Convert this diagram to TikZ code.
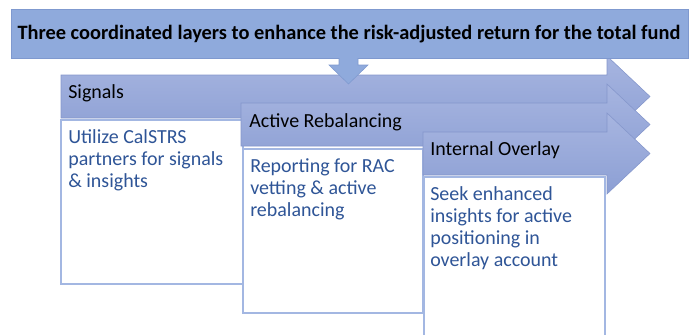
\documentclass[tikz,border=0pt]{standalone}
\usepackage{fontspec}
\setmainfont{Carlito}
\usetikzlibrary{positioning}

\definecolor{bannerblue}{HTML}{8FAADC}
\definecolor{bannerline}{HTML}{7F99CF}
\definecolor{arrowtop}{HTML}{A7B5E0}
\definecolor{arrowbot}{HTML}{8C9FD4}
\definecolor{arrowline}{HTML}{8496CB}
\definecolor{boxline}{HTML}{A3B7E2}
\definecolor{bodyblue}{HTML}{2F5597}

\tikzset{
  layer/.style={top color=arrowtop, bottom color=arrowbot, draw=arrowline, line width=0.4pt},
  card/.style={draw=boxline, fill=white, line width=0.8pt},
  head/.style={anchor=base west, inner sep=0pt, font=\fontsize{14.2}{17}\selectfont},
  note/.style={anchor=north west, inner sep=0pt, align=left, text=bodyblue,
    font=\fontsize{14.2}{15.7}\selectfont},
}

\newcommand{\layerarrow}[2]{%
  \draw[layer] (#1,#2) -- (607,#2) -- (607,#2-19) -- (650,#2+21.5)
    -- (607,#2+62) -- (607,#2+43) -- (#1,#2+43) -- cycle;}

\begin{document}
\begin{tikzpicture}[x=0.025cm, y=-0.025cm]
            \useasboundingbox (0,0) rectangle (691,335);

            \layerarrow{61}{75}
            \draw[card] (61,120) rectangle (243,284);
            \layerarrow{241}{103}
            \draw[card] (243,149) rectangle (423,313);
            \layerarrow{423}{132}
            \draw[card] (424,177) rectangle (605,345);

            \draw[fill=bannerblue, draw=bannerline, line width=0.5pt] (11,9) rectangle (688,58);
            \fill[bannerblue] (339,57) -- (339,65) -- (329,65) -- (348.5,84) -- (368,65) -- (358,65) -- (358,57) -- cycle;
            \draw[bannerline, line width=0.4pt] (339,58) -- (339,65) -- (329,65) -- (348.5,84) -- (368,65) -- (358,65) -- (358,58);

            \node[anchor=base, inner sep=0pt, font=\fontsize{14.5}{17}\selectfont\bfseries] (title) at (349,39)
                {Three coordinated layers to enhance the risk-adjusted return for the total fund};

            \node[head] (sig) at (68,98) {Signals};
            \node[head] (reb) at (249,127) {Active Rebalancing};
            \node[head] (ovl) at (430,155) {Internal Overlay};

            \node[note] (signote) at (68,129) {Utilize CalSTRS\\partners for signals\\\& insights};
            \node[note] (rebnote) at (250,158) {Reporting for RAC\\vetting \& active\\rebalancing};
            \node[note] (ovlnote) at (430,186) {Seek enhanced\\insights for active\\positioning in\\overlay account};
        \end{tikzpicture}
\end{document}
